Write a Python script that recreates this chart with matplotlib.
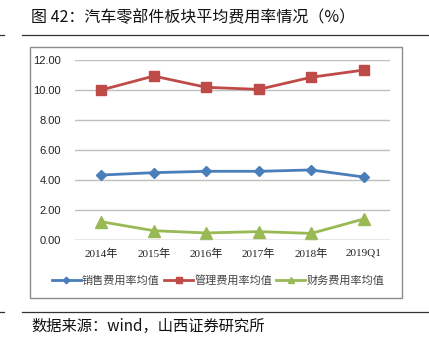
import matplotlib.pyplot as plt
from matplotlib.lines import Line2D
from matplotlib.patches import Rectangle

plt.rcParams['font.family'] = ['Noto Sans CJK SC', 'DejaVu Sans']

categories = ['2014年', '2015年', '2016年', '2017年', '2018年', '2019Q1']
sales_rate = [4.33, 4.49, 4.58, 4.58, 4.67, 4.20]
admin_rate = [10.00, 10.93, 10.18, 10.04, 10.85, 11.33]
finance_rate = [1.22, 0.62, 0.47, 0.56, 0.44, 1.40]
yticks = [0, 2, 4, 6, 8, 10, 12]

W, H = 429, 347
fig = plt.figure(figsize=(W / 100, H / 100), dpi=100)


def fx(px):
    return px / W


def fy(py):
    return 1 - py / H


# title and rules
fig.text(fx(31), fy(18), '图 42：汽车零部件板块平均费用率情况（%）',
         fontsize=11.5, va='center', ha='left', color='#111111')
for y in (34.5, 312):
    fig.add_artist(Line2D([fx(22), fx(429)], [fy(y), fy(y)], color='#333333', lw=0.9))
    fig.add_artist(Line2D([fx(0), fx(4)], [fy(y), fy(y)], color='#333333', lw=0.9))

# chart frame
fig.add_artist(Rectangle((fx(30.5), fy(297.5)), fx(402 - 30.5), fy(47) - fy(297.5),
                         fill=False, ec='#8c8c8c', lw=1.0))

ax = fig.add_axes([fx(75), fy(240), fx(390 - 75), fy(60) - fy(240)])
x = range(len(categories))
ax.plot(x, sales_rate, color='#4a7ebb', lw=2, marker='D', ms=5.5, label='销售费用率均值')
ax.plot(x, admin_rate, color='#be4b48', lw=2, marker='s', ms=7, label='管理费用率均值')
ax.plot(x, finance_rate, color='#98b954', lw=2, marker='^', ms=8, label='财务费用率均值')

ax.set_xlim(-0.5, len(categories) - 0.5)
ax.set_ylim(0, 12)
ax.set_yticks(yticks)
ax.set_yticklabels([f'{v:.2f}' for v in yticks], fontsize=8,
                   family=['Liberation Sans', 'DejaVu Sans'], color='#222222')
ax.set_xticks(list(x))
ax.set_xticklabels(categories, fontsize=8,
                   family=['Liberation Serif', 'Noto Sans CJK SC'], color='#222222')
ax.tick_params(length=0, pad=10)
ax.tick_params(axis='x', pad=6)
ax.grid(axis='y', color='#bfbfbf', lw=1)
ax.set_axisbelow(True)
for s in ax.spines.values():
    s.set_visible(False)
ax.axhline(0, color='#bfbfbf', lw=1)

ax.legend(loc='center', bbox_to_anchor=(fx(218), fy(280)), bbox_transform=fig.transFigure,
          ncol=3, frameon=False, fontsize=8, handlelength=2.6, handletextpad=0.1,
          columnspacing=0.4, markerscale=0.6, labelcolor='#444444')

fig.text(fx(31), fy(326), '数据来源：wind，山西证券研究所', fontsize=11,
         va='center', ha='left', color='#111111',
         family=['Noto Sans CJK SC', 'DejaVu Sans'])

fig.savefig('out.png', dpi=100)
